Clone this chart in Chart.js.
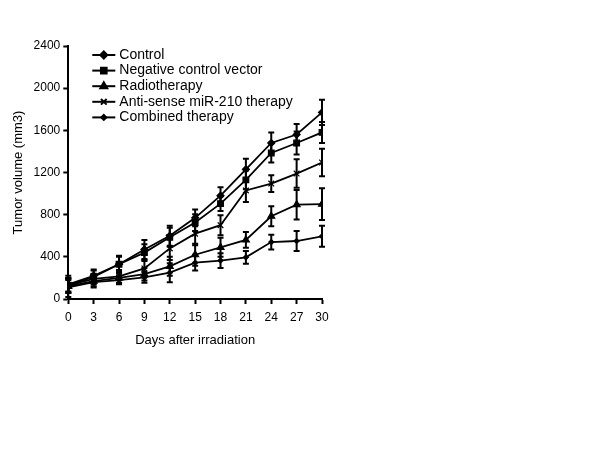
<!DOCTYPE html>
<html>
<head>
<meta charset="utf-8">
<script src="https://cdn.jsdelivr.net/npm/chart.js@4/dist/chart.umd.min.js"></script>
<style>
body{margin:0;background:#fff;}
#wrap{width:614px;height:460px;}
</style>
</head>
<body>
<div id="wrap"><canvas id="tumorChart"></canvas></div>
<script>
const days = [0,3,6,9,12,15,18,21,24,27,30];
const yTicks = [0,400,800,1200,1600,2000,2400];

const seriesNames = [
    'Control',
    'Negative control vector',
    'Radiotherapy',
    'Anti-sense miR-210 therapy',
    'Combined therapy'
];

const control      = [140,220,330,470,600,770,980,1230,1480,1560,1770];
const negative     = [130,210,330,440,585,725,905,1130,1385,1480,1580];
const radio        = [120,170,200,235,310,420,490,560,785,895,900];
const antisense    = [130,190,215,290,480,620,700,1030,1095,1190,1295];
const combined     = [110,160,180,205,250,345,365,395,540,550,595];

const controlErr   = [80,60,80,90,95,80,80,100,100,100,120];
const negativeErr  = [70,60,70,80,90,80,70,90,90,110,100];
const radioErr     = [60,50,50,60,90,105,90,75,95,140,150];
const antisenseErr = [60,50,60,80,110,110,95,110,80,135,130];
const combinedErr  = [90,50,40,50,90,75,70,60,70,95,100];

const markers = ['rectRot','rect','triangle','crossRot','rectRot'];
const markerSize = [3.5,4,4,4,2.5];

function points(values){
    return values.map((v,i)=>({x:days[i],y:v}));
}

const allValues = [control,negative,radio,antisense,combined];
const allErrors = [controlErr,negativeErr,radioErr,antisenseErr,combinedErr];

const datasets = allValues.map((vals,k)=>({
    label: seriesNames[k],
    data: points(vals),
    errors: allErrors[k],
    borderColor:'#000',
    backgroundColor:'#000',
    borderWidth:1.8,
    pointStyle: markers[k],
    pointRadius: markerSize[k],
    pointBorderWidth: 1.2,
    tension:0
}));

// vertical error bars with caps
const errorBars = {
    id:'errorBars',
    beforeDatasetsDraw(chart){
        const ctx = chart.ctx;
        const xs = chart.scales.x;
        const ys = chart.scales.y;
        ctx.save();
        ctx.strokeStyle = '#000';
        ctx.lineWidth = 2;
        chart.data.datasets.forEach(ds=>{
            ds.data.forEach((p,i)=>{
                const e = ds.errors[i];
                const x = xs.getPixelForValue(p.x);
                const top = ys.getPixelForValue(p.y+e);
                const bot = ys.getPixelForValue(Math.max(0,p.y-e));
                ctx.beginPath();
                ctx.moveTo(x,top); ctx.lineTo(x,bot);
                ctx.moveTo(x-3,top); ctx.lineTo(x+3,top);
                ctx.moveTo(x-3,bot); ctx.lineTo(x+3,bot);
                ctx.stroke();
            });
        });
        ctx.restore();
    }
};

// legend drawn inside the plot, top-left
const innerLegend = {
    id:'innerLegend',
    afterDraw(chart){
        const ctx = chart.ctx;
        const area = chart.chartArea;
        const x0 = area.left + 24;
        let y = area.top + 9;
        ctx.save();
        ctx.font = '14px "Liberation Sans", Arial, sans-serif';
        ctx.textBaseline = 'middle';
        ctx.fillStyle = '#000';
        ctx.strokeStyle = '#000';
        chart.data.datasets.forEach(ds=>{
            ctx.lineWidth = 2;
            ctx.beginPath();
            ctx.moveTo(x0,y); ctx.lineTo(x0+23,y);
            ctx.stroke();
            Chart.helpers.drawPoint(ctx,{
                pointStyle: ds.pointStyle,
                radius: ds.pointRadius,
                borderWidth: 1.2,
                rotation: 0
            }, x0+11.5, y);
            ctx.fillText(ds.label, x0+27, y);
            y += 15.6;
        });
        ctx.restore();
    }
};

new Chart(document.getElementById('tumorChart'),{
    type:'line',
    data:{datasets},
    plugins:[errorBars,innerLegend],
    options:{
        responsive:true,
        maintainAspectRatio:false,
        animation:false,
        layout:{padding:{left:7,top:46,right:292,bottom:108}},
        plugins:{
            legend:{display:false},
            tooltip:{enabled:false}
        },
        scales:{
            x:{
                type:'linear',
                min:0,max:30,
                afterBuildTicks(axis){
                    axis.ticks = days.map(v=>({value:v}));
                },
                grid:{drawOnChartArea:false,color:'#000',tickLength:5,tickWidth:2},
                border:{color:'#000',width:2},
                ticks:{color:'#000',font:{family:'"Liberation Sans", Arial',size:12},padding:6,maxRotation:0,
                    callback:v=>String(v)},
                title:{display:true,text:'Days after irradiation',color:'#000',
                    font:{family:'"Liberation Sans", Arial',size:13},padding:{top:2}}
            },
            y:{
                min:0,max:2400,
                afterBuildTicks(axis){
                    axis.ticks = yTicks.map(v=>({value:v}));
                },
                grid:{drawOnChartArea:false,color:'#000',tickLength:5,tickWidth:2},
                border:{color:'#000',width:2},
                ticks:{color:'#000',font:{family:'"Liberation Sans", Arial',size:12},padding:3,
                    callback:v=>String(v)},
                title:{display:true,text:'Tumor volume (mm3)',color:'#000',
                    font:{family:'"Liberation Sans", Arial',size:13},padding:{bottom:4}}
            }
        }
    }
});
</script>
</body>
</html>
